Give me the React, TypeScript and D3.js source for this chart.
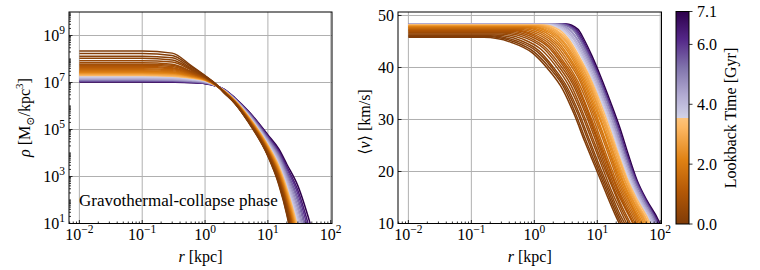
import React from "react";
import * as d3 from "d3";

const W = 760;
const H = 270;
const FONT = "Liberation Serif, DejaVu Serif, serif";

// lookback time of every snapshot [Gyr], present day first
const lookback = [0.0, 0.1, 0.2, 0.3, 0.45, 0.6, 0.75, 0.9, 1.05, 1.2, 1.4, 1.6, 1.8, 2.0, 2.2, 2.4, 2.6, 2.8, 3.0, 3.2, 3.4, 3.6, 3.8, 4.05, 4.3, 4.6, 4.9, 5.25, 5.6, 6.0, 6.5, 7.1];

// density profiles: log10(rho) read at these radii [kpc]
const rhoRadius = [0.01, 0.1, 0.3, 0.6, 1, 1.5, 2, 3, 5, 10, 15, 20, 30, 50];
const logRho = [
  [8.34, 8.34, 8.25, 7.72, 7.29, 6.92, 6.57, 6.10, 5.27, 3.86, 2.63, 1.37, -1.20, -6.00],
  [8.23, 8.23, 8.15, 7.67, 7.28, 6.92, 6.57, 6.11, 5.29, 3.89, 2.68, 1.43, -1.09, -5.80],
  [8.12, 8.12, 8.05, 7.61, 7.26, 6.91, 6.58, 6.11, 5.30, 3.91, 2.72, 1.50, -0.97, -5.59],
  [8.03, 8.03, 7.96, 7.57, 7.25, 6.91, 6.58, 6.12, 5.31, 3.94, 2.77, 1.56, -0.86, -5.39],
  [7.93, 7.93, 7.87, 7.53, 7.23, 6.91, 6.59, 6.13, 5.33, 3.97, 2.81, 1.63, -0.74, -5.19],
  [7.84, 7.84, 7.78, 7.48, 7.22, 6.90, 6.59, 6.14, 5.34, 4.00, 2.86, 1.69, -0.63, -4.99],
  [7.78, 7.78, 7.73, 7.45, 7.21, 6.90, 6.60, 6.14, 5.36, 4.02, 2.90, 1.75, -0.54, -4.82],
  [7.73, 7.73, 7.68, 7.43, 7.20, 6.90, 6.60, 6.15, 5.37, 4.04, 2.94, 1.80, -0.44, -4.65],
  [7.68, 7.68, 7.63, 7.40, 7.18, 6.90, 6.60, 6.15, 5.38, 4.06, 2.97, 1.84, -0.36, -4.51],
  [7.64, 7.64, 7.59, 7.38, 7.18, 6.89, 6.61, 6.16, 5.39, 4.08, 3.00, 1.89, -0.29, -4.38],
  [7.59, 7.59, 7.54, 7.35, 7.16, 6.89, 6.61, 6.17, 5.40, 4.11, 3.04, 1.95, -0.17, -4.18],
  [7.54, 7.54, 7.50, 7.33, 7.15, 6.89, 6.61, 6.17, 5.41, 4.12, 3.07, 1.99, -0.10, -4.04],
  [7.50, 7.50, 7.46, 7.31, 7.14, 6.89, 6.62, 6.18, 5.43, 4.15, 3.12, 2.06, 0.02, -3.84],
  [7.47, 7.47, 7.43, 7.29, 7.13, 6.88, 6.62, 6.18, 5.44, 4.17, 3.15, 2.10, 0.09, -3.70],
  [7.44, 7.44, 7.40, 7.27, 7.13, 6.88, 6.63, 6.19, 5.45, 4.20, 3.20, 2.17, 0.21, -3.50],
  [7.41, 7.41, 7.38, 7.26, 7.12, 6.88, 6.63, 6.20, 5.47, 4.22, 3.24, 2.23, 0.32, -3.30],
  [7.39, 7.39, 7.36, 7.24, 7.11, 6.88, 6.63, 6.20, 5.48, 4.24, 3.27, 2.27, 0.40, -3.16],
  [7.36, 7.36, 7.33, 7.23, 7.11, 6.87, 6.64, 6.21, 5.49, 4.26, 3.30, 2.32, 0.47, -3.03],
  [7.34, 7.34, 7.31, 7.22, 7.10, 6.87, 6.64, 6.21, 5.50, 4.29, 3.35, 2.38, 0.59, -2.82],
  [7.32, 7.32, 7.29, 7.20, 7.09, 6.87, 6.64, 6.22, 5.51, 4.31, 3.38, 2.42, 0.66, -2.69],
  [7.30, 7.30, 7.27, 7.19, 7.08, 6.87, 6.65, 6.23, 5.53, 4.33, 3.43, 2.49, 0.78, -2.49],
  [7.26, 7.26, 7.24, 7.16, 7.07, 6.87, 6.65, 6.23, 5.54, 4.36, 3.47, 2.55, 0.89, -2.28],
  [7.23, 7.23, 7.21, 7.14, 7.05, 6.87, 6.66, 6.24, 5.56, 4.40, 3.53, 2.64, 1.04, -2.01],
  [7.20, 7.20, 7.18, 7.12, 7.04, 6.86, 6.66, 6.25, 5.58, 4.43, 3.59, 2.72, 1.19, -1.74],
  [7.17, 7.17, 7.15, 7.10, 7.03, 6.86, 6.67, 6.26, 5.60, 4.48, 3.67, 2.83, 1.38, -1.40],
  [7.14, 7.14, 7.12, 7.08, 7.01, 6.86, 6.68, 6.28, 5.63, 4.52, 3.75, 2.94, 1.57, -1.07],
  [7.12, 7.12, 7.10, 7.06, 7.00, 6.86, 6.69, 6.29, 5.65, 4.56, 3.81, 3.03, 1.73, -0.80],
  [7.09, 7.09, 7.08, 7.04, 6.99, 6.86, 6.69, 6.30, 5.67, 4.61, 3.89, 3.13, 1.92, -0.46],
  [7.07, 7.07, 7.06, 7.03, 6.98, 6.85, 6.70, 6.31, 5.69, 4.64, 3.95, 3.22, 2.07, -0.19],
  [7.05, 7.05, 7.04, 7.01, 6.97, 6.85, 6.71, 6.32, 5.72, 4.69, 4.02, 3.33, 2.26, 0.15],
  [7.03, 7.03, 7.02, 7.00, 6.96, 6.85, 6.71, 6.33, 5.74, 4.72, 4.08, 3.41, 2.41, 0.42],
  [7.02, 7.02, 7.01, 6.99, 6.95, 6.85, 6.72, 6.34, 5.76, 4.77, 4.16, 3.52, 2.60, 0.76],
];

// velocity profiles: central <v> [km/s], and log10(r) where <v> has dropped by vDrop
const vPlateau = [45.8, 45.95, 46.1, 46.25, 46.45, 46.65, 46.8, 46.95, 47.09, 47.21, 47.37, 47.51, 47.62, 47.73, 47.81, 47.9, 47.97, 48.03, 48.09, 48.14, 48.19, 48.23, 48.26, 48.28, 48.3, 48.32, 48.33, 48.35, 48.36, 48.37, 48.37, 48.38];
const vDrop = [0, 1, 3, 6, 10, 15, 20, 25, 30, 34, 38, 42];
const vLogRadius = [
  [-0.80, -0.36, -0.03, 0.21, 0.45, 0.64, 0.80, 0.97, 1.14, 1.28, 1.43, 1.54],
  [-0.75, -0.32, 0.00, 0.24, 0.48, 0.66, 0.82, 0.99, 1.16, 1.30, 1.45, 1.56],
  [-0.70, -0.28, 0.04, 0.27, 0.50, 0.69, 0.85, 1.01, 1.18, 1.32, 1.47, 1.58],
  [-0.64, -0.23, 0.07, 0.29, 0.52, 0.71, 0.87, 1.03, 1.20, 1.34, 1.50, 1.61],
  [-0.58, -0.18, 0.11, 0.33, 0.55, 0.74, 0.90, 1.06, 1.22, 1.37, 1.52, 1.64],
  [-0.51, -0.13, 0.15, 0.36, 0.58, 0.76, 0.92, 1.08, 1.25, 1.39, 1.55, 1.66],
  [-0.46, -0.09, 0.18, 0.39, 0.61, 0.79, 0.95, 1.10, 1.26, 1.41, 1.57, 1.69],
  [-0.41, -0.05, 0.22, 0.42, 0.63, 0.81, 0.97, 1.12, 1.28, 1.44, 1.60, 1.71],
  [-0.37, -0.01, 0.24, 0.44, 0.65, 0.83, 0.98, 1.14, 1.30, 1.45, 1.61, 1.73],
  [-0.33, 0.02, 0.27, 0.46, 0.67, 0.84, 1.00, 1.15, 1.31, 1.47, 1.63, 1.74],
  [-0.28, 0.06, 0.30, 0.49, 0.69, 0.87, 1.02, 1.17, 1.33, 1.49, 1.65, 1.76],
  [-0.23, 0.10, 0.33, 0.52, 0.72, 0.89, 1.05, 1.20, 1.35, 1.51, 1.67, 1.79],
  [-0.18, 0.14, 0.36, 0.55, 0.74, 0.91, 1.07, 1.22, 1.37, 1.53, 1.69, 1.81],
  [-0.14, 0.18, 0.39, 0.57, 0.76, 0.93, 1.08, 1.23, 1.39, 1.54, 1.71, 1.83],
  [-0.09, 0.22, 0.42, 0.60, 0.78, 0.95, 1.11, 1.25, 1.41, 1.56, 1.73, 1.85],
  [-0.05, 0.25, 0.45, 0.62, 0.80, 0.97, 1.12, 1.27, 1.42, 1.58, 1.75, 1.86],
  [-0.01, 0.28, 0.47, 0.64, 0.82, 0.99, 1.14, 1.28, 1.44, 1.59, 1.77, 1.88],
  [0.03, 0.31, 0.50, 0.66, 0.84, 1.00, 1.16, 1.30, 1.45, 1.61, 1.78, 1.90],
  [0.07, 0.34, 0.52, 0.68, 0.85, 1.02, 1.17, 1.32, 1.47, 1.62, 1.80, 1.92],
  [0.10, 0.36, 0.54, 0.69, 0.87, 1.03, 1.18, 1.33, 1.48, 1.63, 1.81, 1.93],
  [0.14, 0.40, 0.56, 0.71, 0.88, 1.05, 1.20, 1.34, 1.49, 1.65, 1.83, 1.94],
  [0.18, 0.43, 0.59, 0.74, 0.90, 1.07, 1.22, 1.36, 1.51, 1.66, 1.84, 1.96],
  [0.20, 0.45, 0.60, 0.75, 0.91, 1.08, 1.23, 1.37, 1.52, 1.67, 1.85, 1.97],
  [0.24, 0.48, 0.63, 0.77, 0.93, 1.10, 1.25, 1.38, 1.53, 1.69, 1.87, 1.99],
  [0.28, 0.51, 0.65, 0.79, 0.95, 1.11, 1.26, 1.40, 1.55, 1.70, 1.89, 2.01],
  [0.32, 0.54, 0.68, 0.81, 0.97, 1.13, 1.28, 1.41, 1.56, 1.72, 1.90, 2.02],
  [0.34, 0.56, 0.69, 0.83, 0.98, 1.14, 1.29, 1.42, 1.57, 1.73, 1.91, 2.03],
  [0.38, 0.60, 0.72, 0.85, 1.00, 1.16, 1.31, 1.44, 1.59, 1.75, 1.93, 2.05],
  [0.41, 0.62, 0.73, 0.86, 1.01, 1.17, 1.32, 1.45, 1.60, 1.76, 1.94, 2.06],
  [0.44, 0.64, 0.75, 0.88, 1.02, 1.18, 1.33, 1.46, 1.61, 1.77, 1.95, 2.07],
  [0.46, 0.66, 0.77, 0.89, 1.03, 1.19, 1.34, 1.47, 1.62, 1.78, 1.96, 2.08],
  [0.50, 0.69, 0.79, 0.91, 1.05, 1.21, 1.36, 1.49, 1.63, 1.79, 1.98, 2.10],
];

const rhoTickExp = [1, 3, 5, 7, 9];
const rTickExp = [-2, -1, 0, 1, 2];
const vTicks = [10, 20, 30, 40, 50];
const cbarTicks = [0, 2, 4, 6, 7.1];

// PuOr-like map with the pale middle cut out
const cmapStops = [0, 1.08, 2.15, 3.23, 3.55, 3.551, 4.3, 5.23, 6.17, 7.1];
const cmapColors = ["#7f3b08", "#b35806", "#e08214", "#fdb863", "#fdc47c", "#d1d2e7", "#b2abd2", "#8073ac", "#542788", "#2d004b"];
const color = d3.scaleLinear<string>().domain(cmapStops).range(cmapColors).interpolate(d3.interpolateRgb);

const top = 12;
const bottom = 223.5;
const L = { x0: 69, x1: 332 };
const R = { x0: 398, x1: 661.5 };
const CB = { x0: 676, x1: 689, y0: 11.5, y1: 224 };

const xDom: [number, number] = [10 ** -2.165, 10 ** 2.02];
const xL = d3.scaleLog().domain(xDom).range([L.x0, L.x1]);
const xR = d3.scaleLog().domain(xDom).range([R.x0, R.x1]);
const yRho = d3.scaleLog().domain([1e1, 1e10]).range([bottom, top]);
const yVel = d3.scaleLinear().domain([10, 50.67]).range([bottom, top]);
const yCb = d3.scaleLinear().domain([0, 7.1]).range([CB.y1, CB.y0]);

const rhoLine = d3.line<[number, number]>().x(d => xL(d[0])).y(d => yRho(d[1])).curve(d3.curveMonotoneX);
const velLine = d3.line<[number, number]>().x(d => xR(d[0])).y(d => yVel(d[1])).curve(d3.curveMonotoneX);

const minorLog = (lo: number, hi: number, a: number, b: number) => {
  const out: number[] = [];
  for (let e = lo; e <= hi; e++)
    for (let k = 1; k < 10; k++) {
      const v = k * 10 ** e;
      if (v >= a && v <= b) out.push(v);
    }
  return out;
};

const expText = (e: number) => (e < 0 ? "\u2212" + Math.abs(e) : String(e));

const Pow = ({ x, y, e, anchor }: { x: number; y: number; e: number; anchor: string }) => (
  <text x={x} y={y} textAnchor={anchor} fontSize={16} fontFamily={FONT}>
    10<tspan dy={-7} fontSize={11.5}>{expText(e)}</tspan>
  </text>
);

// oldest snapshot drawn first, present day on top
const order = d3.range(lookback.length).reverse();
const grid = "#b0b0b0";
const lw = 1.5;

export default function App() {
  const xMinor = minorLog(-3, 2, xDom[0], xDom[1]);
  const yMinor = minorLog(1, 9, 1e1, 1e10);
  return (
    <div style={{ position: "absolute", left: 0, top: 0 }}>
      <svg width={W} height={H} style={{ display: "block", background: "white" }}>
        <defs>
          <clipPath id="clipL"><rect x={L.x0} y={top} width={L.x1 - L.x0} height={bottom - top} /></clipPath>
          <clipPath id="clipR"><rect x={R.x0} y={top} width={R.x1 - R.x0} height={bottom - top} /></clipPath>
          <linearGradient id="cbar" x1="0" y1="1" x2="0" y2="0">
            {cmapStops.map((s, i) => (
              <stop key={i} offset={s / 7.1} stopColor={cmapColors[i]} />
            ))}
          </linearGradient>
        </defs>

        {/* left panel: density */}
        <g>
          {rTickExp.map(e => (
            <line key={"gx" + e} x1={xL(10 ** e)} x2={xL(10 ** e)} y1={top} y2={bottom} stroke={grid} strokeWidth={1} />
          ))}
          {rhoTickExp.map(e => (
            <line key={"gy" + e} x1={L.x0} x2={L.x1} y1={yRho(10 ** e)} y2={yRho(10 ** e)} stroke={grid} strokeWidth={1} />
          ))}
          <g clipPath="url(#clipL)">
            {order.map(i => (
              <path
                key={i}
                d={rhoLine(rhoRadius.map((r, j) => [r, 10 ** logRho[i][j]] as [number, number])) || ""}
                fill="none"
                stroke={color(lookback[i])}
                strokeWidth={lw}
              />
            ))}
          </g>
          <text x={79} y={206} fontSize={17} fontFamily={FONT}>Gravothermal-collapse phase</text>
          {xMinor.map(v => {
            const major = Math.abs(Math.log10(v) - Math.round(Math.log10(v))) < 1e-9;
            return <line key={"tx" + v} x1={xL(v)} x2={xL(v)} y1={bottom} y2={bottom - (major ? 3.5 : 2)} stroke="black" strokeWidth={0.8} />;
          })}
          {yMinor.map(v => {
            const le = Math.log10(v);
            const major = Math.abs(le - Math.round(le)) < 1e-9 && Math.round(le) % 2 === 1;
            return <line key={"ty" + v} x1={L.x0} x2={L.x0 + (major ? 3.5 : 2)} y1={yRho(v)} y2={yRho(v)} stroke="black" strokeWidth={0.8} />;
          })}
          <rect x={L.x0} y={top} width={L.x1 - L.x0} height={bottom - top} fill="none" stroke="black" strokeWidth={1} />
          {rTickExp.map(e => (
            <Pow key={"lx" + e} x={xL(10 ** e)} y={240} e={e} anchor="middle" />
          ))}
          {rhoTickExp.map(e => (
            <Pow key={"ly" + e} x={65} y={yRho(10 ** e) + 5.5} e={e} anchor="end" />
          ))}
          <text x={(L.x0 + L.x1) / 2} y={262} textAnchor="middle" fontSize={16} fontFamily={FONT}>
            <tspan fontStyle="italic">r</tspan> [kpc]
          </text>
          <text transform="translate(30,117.5) rotate(-90)" textAnchor="middle" fontSize={16} fontFamily={FONT}>
            <tspan fontStyle="italic">ρ</tspan> [M<tspan dy={4} fontSize={11}>⊙</tspan>
            <tspan dy={-4}>/kpc</tspan>
            <tspan dy={-7} fontSize={11}>3</tspan>
            <tspan dy={7}>]</tspan>
          </text>
        </g>

        {/* right panel: velocity */}
        <g>
          {rTickExp.map(e => (
            <line key={"gx" + e} x1={xR(10 ** e)} x2={xR(10 ** e)} y1={top} y2={bottom} stroke={grid} strokeWidth={1} />
          ))}
          {vTicks.map(v => (
            <line key={"gy" + v} x1={R.x0} x2={R.x1} y1={yVel(v)} y2={yVel(v)} stroke={grid} strokeWidth={1} />
          ))}
          <g clipPath="url(#clipR)">
            {order.map(i => {
              const pts: [number, number][] = [[0.01, vPlateau[i]]];
              vDrop.forEach((dv, j) => pts.push([10 ** vLogRadius[i][j], vPlateau[i] - dv]));
              return <path key={i} d={velLine(pts) || ""} fill="none" stroke={color(lookback[i])} strokeWidth={lw} />;
            })}
          </g>
          {xMinor.map(v => {
            const major = Math.abs(Math.log10(v) - Math.round(Math.log10(v))) < 1e-9;
            return <line key={"tx" + v} x1={xR(v)} x2={xR(v)} y1={bottom} y2={bottom - (major ? 3.5 : 2)} stroke="black" strokeWidth={0.8} />;
          })}
          {vTicks.map(v => (
            <line key={"ty" + v} x1={R.x0} x2={R.x0 + 3.5} y1={yVel(v)} y2={yVel(v)} stroke="black" strokeWidth={0.8} />
          ))}
          <rect x={R.x0} y={top} width={R.x1 - R.x0} height={bottom - top} fill="none" stroke="black" strokeWidth={1} />
          {rTickExp.map(e => (
            <Pow key={"lx" + e} x={xR(10 ** e)} y={240} e={e} anchor="middle" />
          ))}
          {vTicks.map(v => (
            <text key={"ly" + v} x={394} y={yVel(v) + 5.5} textAnchor="end" fontSize={16} fontFamily={FONT}>{v}</text>
          ))}
          <text x={(R.x0 + R.x1) / 2} y={262} textAnchor="middle" fontSize={16} fontFamily={FONT}>
            <tspan fontStyle="italic">r</tspan> [kpc]
          </text>
          <text transform="translate(370,122) rotate(-90)" textAnchor="middle" fontSize={16} fontFamily={FONT}>
            ⟨<tspan fontStyle="italic">v</tspan>⟩ [km/s]
          </text>
        </g>

        {/* colorbar */}
        <g>
          <rect x={CB.x0} y={CB.y0} width={CB.x1 - CB.x0} height={CB.y1 - CB.y0} fill="url(#cbar)" stroke="black" strokeWidth={1} />
          {cbarTicks.map(t => (
            <g key={t}>
              <line x1={CB.x1} x2={CB.x1 + 3.5} y1={yCb(t)} y2={yCb(t)} stroke="black" strokeWidth={0.8} />
              <text x={697} y={yCb(t) + 5.5} fontSize={16} fontFamily={FONT}>{d3.format(".1f")(t)}</text>
            </g>
          ))}
          <text transform="translate(736,118) rotate(-90)" textAnchor="middle" fontSize={16} fontFamily={FONT}>
            Lookback Time [Gyr]
          </text>
        </g>
      </svg>
    </div>
  );
}
